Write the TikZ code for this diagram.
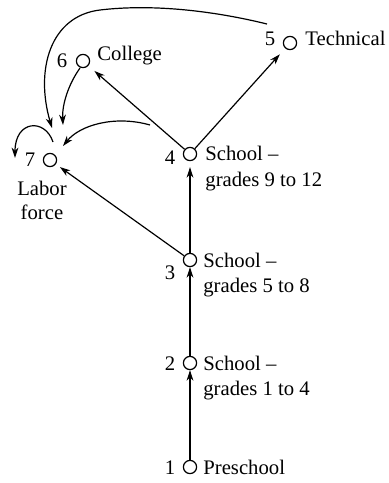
\documentclass[tikz,border=0pt]{standalone}
\usepackage{fontspec}
\setmainfont{Liberation Serif}
\usetikzlibrary{arrows.meta}
\begin{document}
\begin{tikzpicture}[x=0.5pt,y=-0.5pt,
  vert/.style={circle,draw,line width=0.6pt,minimum size=6.6pt,inner sep=0pt},
  lbl/.style={inner sep=0pt,font=\fontsize{10.35}{12}\selectfont},
  arr/.style={line width=0.6pt,-{Stealth[length=5.2pt,width=3.4pt,inset=1.6pt]}},
  ln/.style={line width=0.6pt}]
\useasboundingbox (0,0) rectangle (389,483);
% vertices
\node[vert] (v1) at (190,467) {};
\node[vert] (v2) at (190,363) {};
\node[vert] (v3) at (190,260) {};
\node[vert] (v4) at (190,154) {};
\node[vert] (v5) at (290,43) {};
\node[vert] (v6) at (83,61) {};
\node[vert] (v7) at (50,160) {};
% labels
\node[lbl,anchor=base] (n1) at (170,474) {1};
\node[lbl,anchor=base west] (t1) at (203,474) {Preschool};
\node[lbl,anchor=base] (n2) at (170,370) {2};
\node[lbl,anchor=base west] (t2a) at (203,370) {School –};
\node[lbl,anchor=base west] (t2b) at (203,395) {grades 1 to 4};
\node[lbl,anchor=base] (n3) at (170,279) {3};
\node[lbl,anchor=base west] (t3a) at (203,267) {School –};
\node[lbl,anchor=base west] (t3b) at (203,292) {grades 5 to 8};
\node[lbl,anchor=base] (n4) at (170,164) {4};
\node[lbl,anchor=base west] (t4a) at (205,160) {School –};
\node[lbl,anchor=base west] (t4b) at (205,186) {grades 9 to 12};
\node[lbl,anchor=base] (n5) at (270,45) {5};
\node[lbl,anchor=base west] (t5) at (305,45) {Technical};
\node[lbl,anchor=base] (n6) at (62,67) {6};
\node[lbl,anchor=base west] (t6) at (97,60) {College};
\node[lbl,anchor=base] (n7) at (30,166) {7};
\node[lbl,anchor=base] (t7a) at (42,195) {Labor};
\node[lbl,anchor=base] (t7b) at (42,219) {force};
% coordinates for free ends
\coordinate (c5s) at (267,24);
\coordinate (c7a) at (52,128);
\coordinate (c6s) at (80,68);
\coordinate (c7b) at (63,125);
\coordinate (c4s) at (150,125);
\coordinate (c7c) at (63,146);
\coordinate (c7s) at (53,142);
\coordinate (c7t) at (15,158);
% edges
\draw[arr] (v1) -- (v2);
\draw[arr] (v2) -- (v3);
\draw[arr,shorten >=3pt] (v3) -- (v4);
\draw[arr,shorten >=4pt] (v4) -- (v5);
\draw[arr,shorten >=4pt] (v4) -- (v6);
\draw[arr,shorten >=2.5pt] (v3) -- (v7);
\draw[arr] (c5s) .. controls (210,10) and (150,4) .. (100,10)
  .. controls (50,16) and (35,70) .. (c7a);
\draw[arr] (c6s) .. controls (68,85) and (62,105) .. (c7b);
\draw[arr] (c4s) .. controls (115,115) and (80,125) .. (c7c);
\draw[arr] (c7s) .. controls (45,118) and (15,120) .. (c7t);
\end{tikzpicture}
\end{document}
